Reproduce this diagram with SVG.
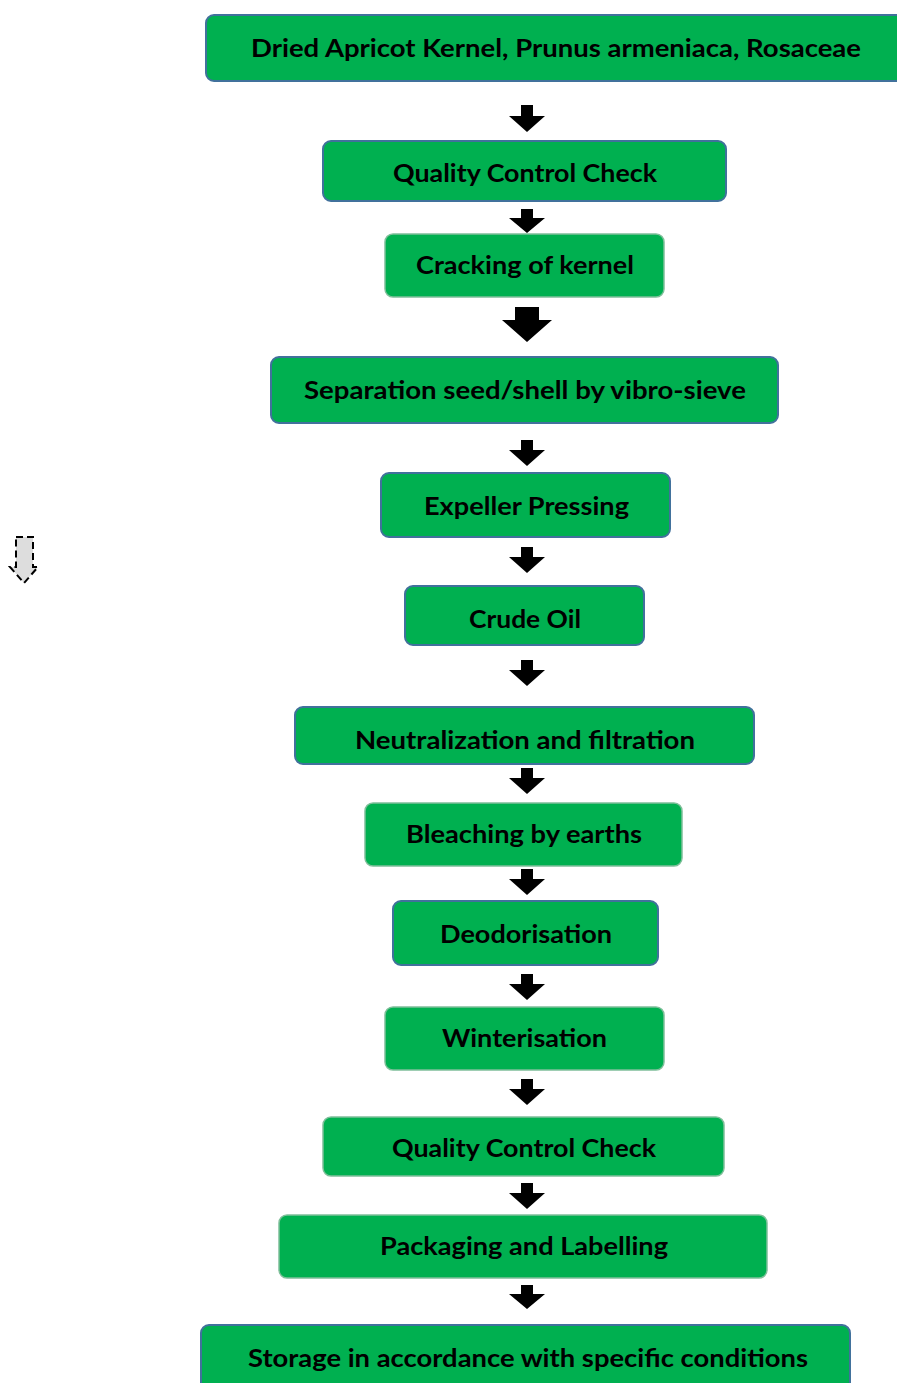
<svg xmlns="http://www.w3.org/2000/svg" width="897" height="1383" viewBox="0 0 897 1383">
<style>
.box{fill:#00B050;stroke:#41719C;stroke-width:2}
.box2{fill:#00B050;stroke:#7FBF9A;stroke-width:1.5}
.t{font-family:Lato,"Liberation Sans",sans-serif;font-weight:bold;font-size:24px;fill:#000;text-anchor:middle}
.arr{fill:#000}
</style>
<rect width="897" height="1383" fill="#fff"/>
<g id="n1"><rect class="box" x="206" y="15" width="710" height="66" rx="8"/><text class="t" x="556" y="57" textLength="610" lengthAdjust="spacingAndGlyphs">Dried Apricot Kernel, Prunus armeniaca, Rosaceae</text></g>
<g id="n2"><rect class="box" x="323" y="141" width="403" height="60" rx="8"/><text class="t" x="525" y="182" textLength="264" lengthAdjust="spacingAndGlyphs">Quality Control Check</text></g>
<g id="n3"><rect class="box2" x="385" y="234" width="279" height="63" rx="8"/><text class="t" x="525" y="274" textLength="218" lengthAdjust="spacingAndGlyphs">Cracking of kernel</text></g>
<g id="n4"><rect class="box" x="271" y="357" width="507" height="66" rx="8"/><text class="t" x="525" y="399" textLength="442" lengthAdjust="spacingAndGlyphs">Separation seed/shell by vibro-sieve</text></g>
<g id="n5"><rect class="box" x="381" y="473" width="289" height="64" rx="8"/><text class="t" x="526.5" y="515" textLength="205" lengthAdjust="spacingAndGlyphs">Expeller Pressing</text></g>
<g id="n6"><rect class="box" x="405" y="586" width="239" height="59" rx="8"/><text class="t" x="525" y="628" textLength="112" lengthAdjust="spacingAndGlyphs">Crude Oil</text></g>
<g id="n7"><rect class="box" x="295" y="707" width="459" height="57" rx="8"/><text class="t" x="525" y="749" textLength="340" lengthAdjust="spacingAndGlyphs">Neutralization and filtration</text></g>
<g id="n8"><rect class="box2" x="365" y="803" width="317" height="63" rx="8"/><text class="t" x="524" y="843" textLength="236" lengthAdjust="spacingAndGlyphs">Bleaching by earths</text></g>
<g id="n9"><rect class="box" x="393" y="901" width="265" height="64" rx="8"/><text class="t" x="526" y="943" textLength="172" lengthAdjust="spacingAndGlyphs">Deodorisation</text></g>
<g id="n10"><rect class="box2" x="385" y="1007" width="279" height="63" rx="8"/><text class="t" x="524.5" y="1047" textLength="165" lengthAdjust="spacingAndGlyphs">Winterisation</text></g>
<g id="n11"><rect class="box2" x="323" y="1117" width="401" height="59" rx="8"/><text class="t" x="524" y="1157" textLength="264" lengthAdjust="spacingAndGlyphs">Quality Control Check</text></g>
<g id="n12"><rect class="box2" x="279" y="1215" width="488" height="63" rx="8"/><text class="t" x="524" y="1255" textLength="288" lengthAdjust="spacingAndGlyphs">Packaging and Labelling</text></g>
<g id="n13"><rect class="box" x="201" y="1325" width="649" height="75" rx="8"/><text class="t" x="528" y="1367" textLength="560" lengthAdjust="spacingAndGlyphs">Storage in accordance with specific conditions</text></g>
<g id="connectors">
<path class="arr" d="M521,105V116H509L527,132L545,116H533V105Z"/>
<path class="arr" d="M521,209V218H509L527,233L545,218H533V209Z"/>
<path class="arr" d="M515,307V320H502L527,342L552,320H539V307Z"/>
<path class="arr" d="M521,440V450H509L527,466L545,450H533V440Z"/>
<path class="arr" d="M521,547V557H509L527,573L545,557H533V547Z"/>
<path class="arr" d="M521,660V670H509L527,686L545,670H533V660Z"/>
<path class="arr" d="M521,768V778H509L527,794L545,778H533V768Z"/>
<path class="arr" d="M521,869V879H509L527,895L545,879H533V869Z"/>
<path class="arr" d="M521,974V984H509L527,1000L545,984H533V974Z"/>
<path class="arr" d="M521,1079V1089H509L527,1105L545,1089H533V1079Z"/>
<path class="arr" d="M521,1183V1193H509L527,1209L545,1193H533V1183Z"/>
<path class="arr" d="M521,1285V1294H509L527,1309L545,1294H533V1285Z"/>
</g>
<path d="M16,537H33V567H38L24,583L10,567H16Z" fill="#DDDDDD" stroke="#000" stroke-width="2" stroke-dasharray="7,4"/>
</svg>
